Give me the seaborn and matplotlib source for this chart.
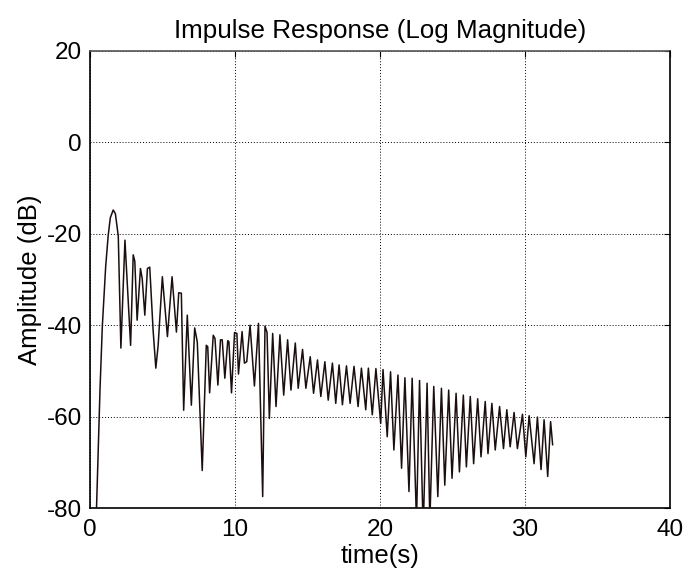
import matplotlib
matplotlib.use("Agg")
import matplotlib.pyplot as plt
import seaborn as sns
import pandas as pd

# ---- data ----
time_s = [0.44, 0.69, 0.85, 1.08, 1.25, 1.40, 1.60, 1.75, 1.95, 2.13, 2.41, 2.80, 2.98, 3.09,
          3.25, 3.48, 3.60, 3.78, 3.96, 4.12, 4.35, 4.54, 4.70, 4.99, 5.34, 5.66, 5.96, 6.12,
          6.30, 6.46, 6.71, 6.99, 7.22, 7.40, 7.74, 8.02, 8.12, 8.25, 8.50, 8.62, 8.82, 9.00,
          9.12, 9.30, 9.50, 9.58, 9.76, 9.97, 10.13, 10.24, 10.49, 10.65, 10.81, 11.04, 11.34,
          11.62, 11.91, 12.07, 12.21, 12.37, 12.60, 12.83, 13.10, 13.36, 13.63, 13.86, 14.16,
          14.36, 14.66, 14.89, 15.19, 15.42, 15.69, 15.92, 16.20, 16.43, 16.72, 16.95, 17.18,
          17.41, 17.69, 17.94, 18.21, 18.49, 18.72, 19.02, 19.20, 19.47, 19.72, 20.05, 20.21,
          20.50, 20.73, 20.96, 21.24, 21.49, 21.72, 22.00, 22.22, 22.52, 22.73, 22.98, 23.25,
          23.44, 23.71, 23.99, 24.24, 24.47, 24.74, 24.97, 25.25, 25.48, 25.75, 25.96, 26.23,
          26.46, 26.74, 26.97, 27.26, 27.45, 27.72, 27.95, 28.25, 28.52, 28.75, 28.98, 29.25,
          29.48, 29.83, 30.06, 30.29, 30.63, 30.86, 31.11, 31.32, 31.57, 31.77, 31.91]
amp_db = [-81.0, -54.0, -40.2, -27.2, -20.5, -16.5, -14.8, -15.6, -20.5, -45.0, -21.4, -44.4,
          -24.6, -26.0, -38.9, -27.6, -29.8, -37.8, -27.6, -27.3, -41.0, -49.4, -44.4, -29.4,
          -42.5, -29.4, -41.5, -32.9, -33.0, -58.6, -37.8, -57.5, -40.6, -43.7, -71.8, -44.4,
          -44.7, -54.8, -42.2, -42.9, -53.1, -43.2, -43.2, -51.6, -43.4, -43.6, -54.8, -41.6,
          -41.8, -50.7, -41.4, -48.3, -48.0, -40.0, -53.3, -39.6, -77.5, -40.2, -41.6, -60.4,
          -41.8, -57.8, -42.1, -55.3, -43.2, -54.2, -43.9, -53.8, -45.3, -53.8, -46.9, -54.9,
          -47.6, -55.6, -48.0, -56.4, -48.3, -57.1, -48.7, -57.4, -48.9, -57.1, -49.0, -57.8,
          -49.4, -58.5, -49.4, -59.6, -49.5, -61.5, -49.7, -64.4, -50.2, -67.3, -50.9, -71.3,
          -51.5, -76.4, -51.6, -83.0, -52.1, -85.0, -52.7, -83.0, -53.4, -77.5, -53.8, -75.0,
          -54.2, -73.5, -54.9, -72.1, -55.3, -71.0, -55.6, -70.3, -56.1, -68.8, -56.7, -68.1,
          -57.1, -67.3, -57.8, -67.0, -58.5, -66.6, -59.1, -67.0, -59.5, -68.8, -59.8, -70.3,
          -60.1, -71.6, -60.7, -73.1, -61.1, -66.2]
x_ticks = [0, 10, 20, 30, 40]
y_ticks = [-80, -60, -40, -20, 0, 20]
title = "Impulse Response (Log Magnitude)"
x_label = "time(s)"
y_label = "Amplitude (dB)"

sns.set_theme(style="white")
plt.rcParams["font.family"] = ["Liberation Sans", "DejaVu Sans"]
plt.rcParams["axes.unicode_minus"] = False

fig = plt.figure(figsize=(6.85, 5.78), dpi=100)
ax = fig.add_axes([0.1314, 0.1211, 0.8466, 0.7907])

df = pd.DataFrame({"time": time_s, "amp": amp_db})
sns.lineplot(data=df, x="time", y="amp", ax=ax, sort=False, estimator=None,
             color="#1c0e0e", linewidth=1.1, zorder=3)

ax.set_xlim(0, 40)
ax.set_ylim(-80, 20)
ax.set_xticks(x_ticks)
ax.set_yticks(y_ticks)
ax.grid(True, color="black", linestyle=(0, (1, 2)), linewidth=0.7)
ax.tick_params(direction="in", length=4, width=0.8, top=True, right=True,
               labelsize=17.5, colors="black")
ax.tick_params(axis="x", pad=8)
ax.tick_params(axis="y", pad=6)
for side in ["left", "bottom", "right"]:
    ax.spines[side].set_color("black")
    ax.spines[side].set_linewidth(1.2)
ax.spines["top"].set_color("#555555")
ax.spines["top"].set_linewidth(1.2)
ax.spines["top"].set_linestyle((0, (1, 1)))

ax.set_xlabel(x_label, fontsize=18.5, labelpad=2, color="black")
ax.set_ylabel(y_label, fontsize=18.5, labelpad=3, color="black")
ax.set_title(title, fontsize=18.7, pad=9, color="black")

fig.savefig("out.png", dpi=100)
